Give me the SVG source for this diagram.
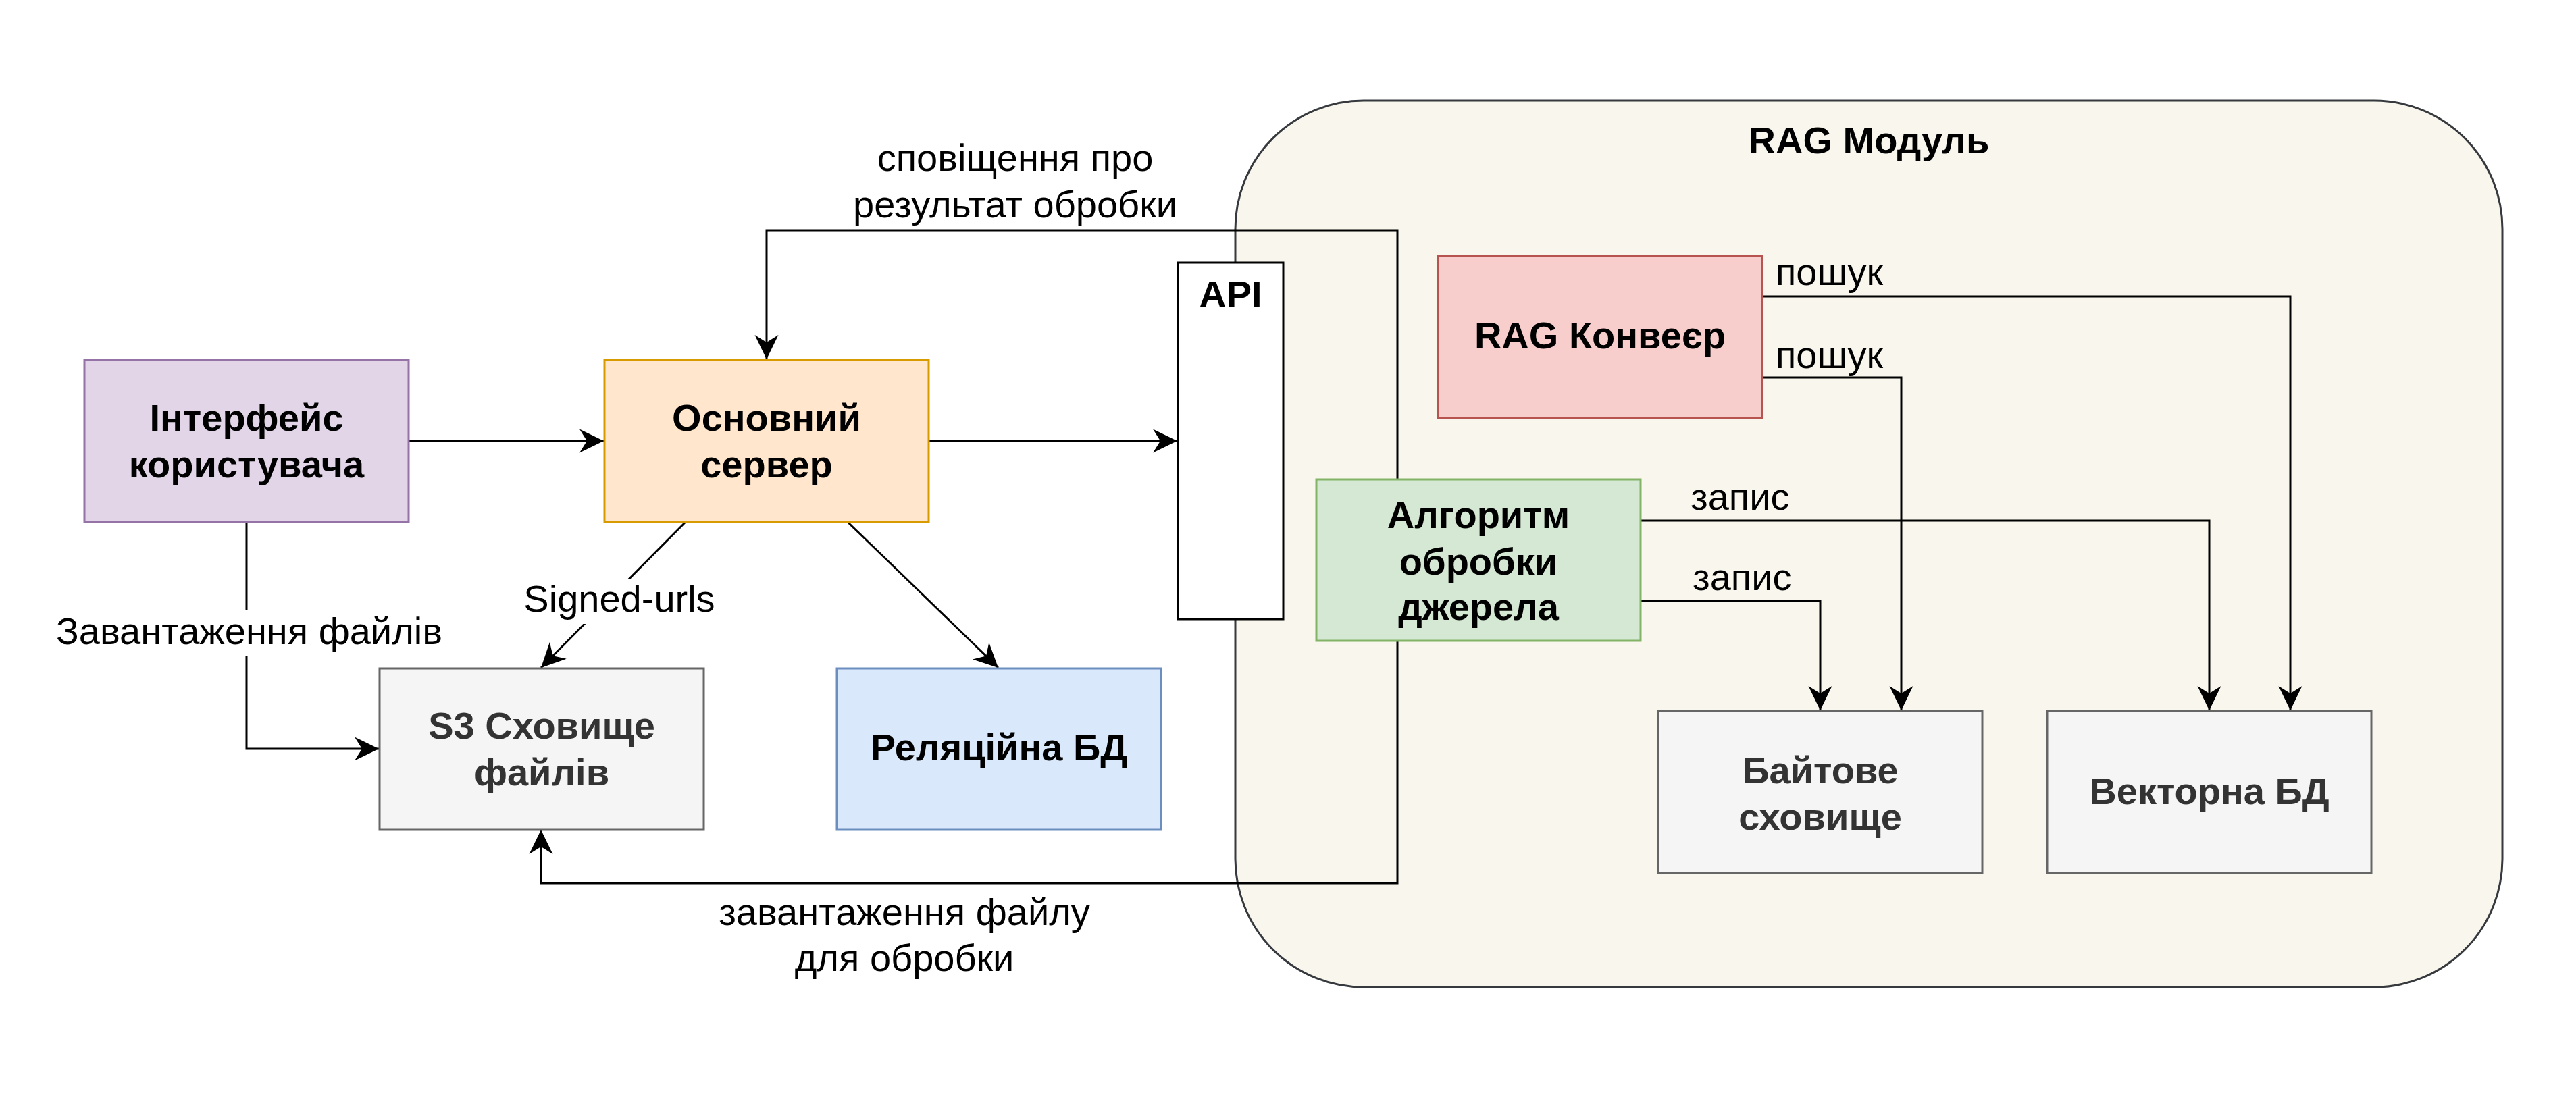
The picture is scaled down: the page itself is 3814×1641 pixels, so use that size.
<svg xmlns="http://www.w3.org/2000/svg" width="3814" height="1641" viewBox="0 0 3814 1641">
  <style>
    .node { stroke-width: 3; }
    .lbl { font-family: "Liberation Sans", Arial, sans-serif; font-size: 56px; font-weight: bold; text-anchor: middle; fill: #000000; }
    .lbl.gray { fill: #333333; }
    .etxt { font-family: "Liberation Sans", Arial, sans-serif; font-size: 56px; fill: #000000; }
    .mid { text-anchor: middle; }
    .edge { fill: none; stroke: #000000; stroke-width: 3; marker-end: url(#arr); }
  </style>
  <defs>
    <marker id="arr" markerUnits="userSpaceOnUse" viewBox="-40 -20 42 40" markerWidth="42" markerHeight="40" refX="0" refY="0" orient="auto" overflow="visible">
      <path d="M0,0 L-36,-17.5 L-25,0 L-36,17.5 Z" fill="#000000"/>
    </marker>
  </defs>
  <rect width="3814" height="1641" fill="#ffffff"/>

  <g id="rag-module">
    <rect x="1829" y="149" width="1876" height="1313" rx="190" ry="190" fill="#f9f7ed" stroke="#36393d" stroke-width="3"/>
    <text class="lbl" x="2767" y="227">RAG Модуль</text>
  </g>

  <g id="connectors">
    <path class="edge" d="M606,653 L894,653"/>
    <path class="edge" d="M1374,653 L1743,653"/>
    <path class="edge" d="M1015,773 L801,989"/>
    <rect x="778" y="858" width="280" height="66" fill="#ffffff"/>
    <text class="etxt mid" x="917" y="906">Signed-urls</text>
    <path class="edge" d="M1255,773 L1478,989"/>
    <path class="edge" d="M365,773 L365,1109 L561,1109"/>
    <rect x="82" y="903" width="574" height="68" fill="#ffffff"/>
    <text class="etxt mid" x="369" y="954">Завантаження файлів</text>
    <path class="edge" d="M2069,710 L2069,341 L1135,341 L1135,532"/>
    <text class="etxt mid" x="1503" y="253">сповіщення про</text>
    <text class="etxt mid" x="1503" y="322">результат обробки</text>
    <path class="edge" d="M2069,949 L2069,1308 L801,1308 L801,1229"/>
    <text class="etxt mid" x="1339" y="1370">завантаження файлу</text>
    <text class="etxt mid" x="1339" y="1438">для обробки</text>
    <path class="edge" d="M2609,439 L3391,439 L3391,1052"/>
    <text class="etxt" x="2629" y="422">пошук</text>
    <path class="edge" d="M2609,559 L2815,559 L2815,1052"/>
    <text class="etxt" x="2629" y="545">пошук</text>
    <path class="edge" d="M2429,771 L3271,771 L3271,1052"/>
    <text class="etxt" x="2503" y="755">запис</text>
    <path class="edge" d="M2429,890 L2695,890 L2695,1052"/>
    <text class="etxt" x="2506" y="874">запис</text>
  </g>

  <g id="interface">
    <rect class="node" x="125" y="533" width="480" height="240" fill="#e1d5e7" stroke="#9673a6"/>
    <text class="lbl" x="365" y="638">Інтерфейс</text>
    <text class="lbl" x="365" y="707">користувача</text>
  </g>
  <g id="main-server">
    <rect class="node" x="895" y="533" width="480" height="240" fill="#ffe6cc" stroke="#d79b00"/>
    <text class="lbl" x="1135" y="638">Основний</text>
    <text class="lbl" x="1135" y="707">сервер</text>
  </g>
  <g id="api">
    <rect class="node" x="1744" y="389" width="156" height="528" fill="#ffffff" stroke="#000000"/>
    <text class="lbl" x="1822" y="455">API</text>
  </g>
  <g id="s3">
    <rect class="node" x="562" y="990" width="480" height="239" fill="#f5f5f5" stroke="#666666"/>
    <text class="lbl gray" x="802" y="1094">S3 Сховище</text>
    <text class="lbl gray" x="802" y="1163">файлів</text>
  </g>
  <g id="relational-db">
    <rect class="node" x="1239" y="990" width="480" height="239" fill="#dae8fc" stroke="#6c8ebf"/>
    <text class="lbl" x="1479" y="1126">Реляційна БД</text>
  </g>
  <g id="rag-pipeline">
    <rect class="node" x="2129" y="379" width="480" height="240" fill="#f8cecc" stroke="#b85450"/>
    <text class="lbl" x="2369" y="516">RAG Конвеєр</text>
  </g>
  <g id="source-processing">
    <rect class="node" x="1949" y="710" width="480" height="239" fill="#d5e8d4" stroke="#82b366"/>
    <text class="lbl" x="2189" y="782">Алгоритм</text>
    <text class="lbl" x="2189" y="851">обробки</text>
    <text class="lbl" x="2189" y="918">джерела</text>
  </g>
  <g id="byte-storage">
    <rect class="node" x="2455" y="1053" width="480" height="240" fill="#f5f5f5" stroke="#666666"/>
    <text class="lbl gray" x="2695" y="1160">Байтове</text>
    <text class="lbl gray" x="2695" y="1229">сховище</text>
  </g>
  <g id="vector-db">
    <rect class="node" x="3031" y="1053" width="480" height="240" fill="#f5f5f5" stroke="#666666"/>
    <text class="lbl gray" x="3271" y="1191">Векторна БД</text>
  </g>
</svg>
